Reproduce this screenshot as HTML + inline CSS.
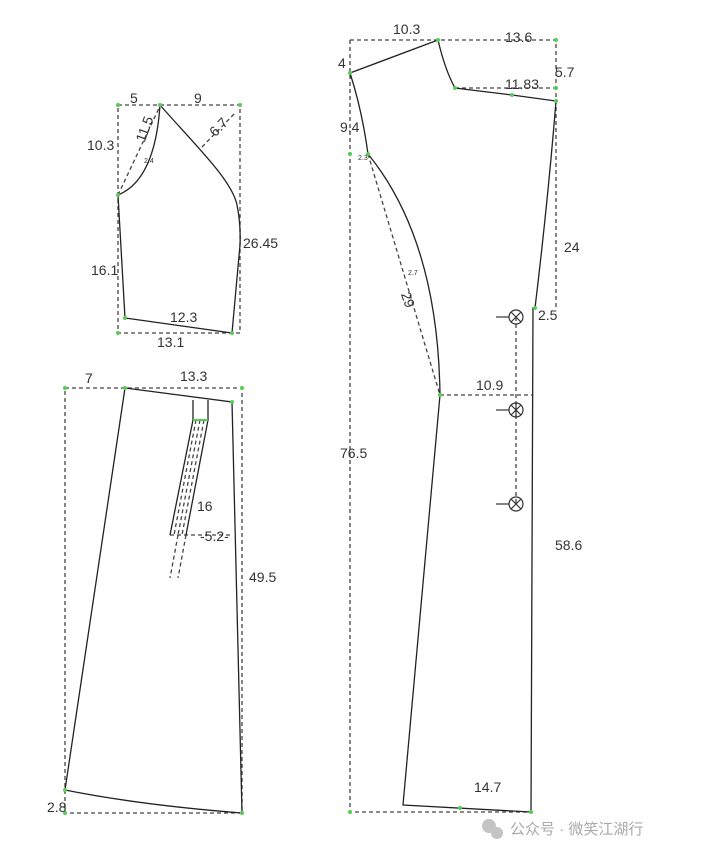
<!DOCTYPE html>
<html><head><meta charset="utf-8"><style>
html,body{margin:0;padding:0;background:#fff;}
svg{display:block;}
text{font-family:"Liberation Sans",sans-serif;fill:#333;}
</style></head><body>
<svg width="719" height="857" viewBox="0 0 719 857" xmlns="http://www.w3.org/2000/svg">
<g fill="none" stroke="#444" stroke-width="1.3" stroke-dasharray="4,3">
<rect x="118" y="105" width="122" height="228"/>
<line x1="118" y1="195" x2="160" y2="106"/>
<line x1="202" y1="147" x2="236" y2="112"/>
<path d="M65 388 H242 V813 H65 Z"/>
<path d="M196 420 L174 535 M200 420 L178 535 M204 420 L182 535 M186 535 L178 578 M178 535 L170 578"/>
<path d="M170 535 H230"/>
<path d="M350 40 H556 V308 M350 40 V812 H533"/>
<path d="M455 88 H556"/>
<line x1="368" y1="154" x2="440" y2="395"/>
<line x1="440" y1="395" x2="533" y2="395"/>
<line x1="516" y1="317" x2="516" y2="504"/>
</g>
<g fill="none" stroke="#222" stroke-width="1.3">
<path d="M160 105 C195 145 232 180 237 205 Q241 225 240 245 L232 333 L125 318 L118 195 Q155 180 160 105"/>
<path d="M125 388 L232 402 L242 813 Q140 805 65 790 L125 388"/>
<path d="M193 400 L193 420 M208 400 L208 420 M193 420 L170 535 M208 420 L186 535"/>
<path d="M350 73 L438 40 Q445 70 455 88 L512 95 L556 101 Q548 200 535 308 L533 308 L531 812 L403 805 L440 395 Q438 240 368 154 Q362 110 350 73"/>
</g>
<path d="M193 420 H208" stroke="#5c5" stroke-width="2"/>
<g stroke="#333" stroke-width="1.2" fill="none">
<circle cx="516" cy="317" r="7"/><line x1="496" y1="317" x2="509" y2="317"/><path d="M511 312 L521 322 M521 312 L511 322"/>
<circle cx="516" cy="410" r="7"/><line x1="496" y1="410" x2="509" y2="410"/><path d="M511 405 L521 415 M521 405 L511 415 M516 403 V417"/>
<circle cx="516" cy="504" r="7"/><line x1="496" y1="504" x2="509" y2="504"/><path d="M511 499 L521 509 M521 499 L511 509"/>
</g>
<g fill="#5c5" stroke="none">
<circle cx="118" cy="105" r="2"/><circle cx="160" cy="105" r="2"/><circle cx="240" cy="105" r="2"/><circle cx="118" cy="195" r="2"/><circle cx="118" cy="333" r="2"/><circle cx="232" cy="333" r="2"/><circle cx="125" cy="318" r="2"/>
<circle cx="65" cy="388" r="2"/><circle cx="125" cy="388" r="2"/><circle cx="242" cy="388" r="2"/><circle cx="232" cy="402" r="2"/><circle cx="65" cy="790" r="2"/><circle cx="65" cy="813" r="2"/><circle cx="242" cy="813" r="2"/>
<circle cx="350" cy="73" r="2"/><circle cx="438" cy="40" r="2"/><circle cx="556" cy="40" r="2"/><circle cx="455" cy="88" r="2"/><circle cx="556" cy="88" r="2"/><circle cx="512" cy="95" r="2"/><circle cx="556" cy="101" r="2"/><circle cx="350" cy="154" r="2"/><circle cx="368" cy="154" r="2"/><circle cx="440" cy="395" r="2"/><circle cx="535" cy="308" r="2"/><circle cx="350" cy="812" r="2"/><circle cx="531" cy="812" r="2"/><circle cx="460" cy="808" r="2"/>
</g>
<g font-size="14">
<text x="130" y="103">5</text><text x="194" y="103">9</text>
<text x="87" y="150">10.3</text>
<text x="134" y="142" transform="rotate(-70 140 135)">11.5</text>
<text x="144" y="163" font-size="7">2.4</text>
<text x="208" y="132" transform="rotate(-45 218 126)">6.7</text>
<text x="243" y="248">26.45</text>
<text x="91" y="275">16.1</text>
<text x="170" y="322">12.3</text>
<text x="157" y="347">13.1</text>
<text x="85" y="383">7</text><text x="180" y="381">13.3</text>
<text x="197" y="511">16</text>
<text x="200" y="541">-5.2-</text>
<text x="249" y="582">49.5</text>
<text x="47" y="812">2.8</text>
<text x="393" y="34">10.3</text><text x="505" y="42">13.6</text>
<text x="338" y="68">4</text>
<text x="505" y="89">11.83</text><text x="555" y="77">5.7</text>
<text x="340" y="132">9.4</text>
<text x="358" y="160" font-size="7">2.3</text>
<text x="564" y="252">24</text>
<text x="408" y="275" font-size="7">2.7</text>
<text x="398" y="302" transform="rotate(70 405 300)">29</text>
<text x="538" y="320">2.5</text>
<text x="476" y="390">10.9</text>
<text x="340" y="458">76.5</text>
<text x="555" y="550">58.6</text>
<text x="474" y="792">14.7</text>
</g>
<g fill="#c4c4c4">
<circle cx="489" cy="826" r="7"/><circle cx="497" cy="833" r="6"/>
</g>
<text x="510" y="834" font-size="15" style="fill:#aaa;font-family:'Liberation Sans','Noto Sans CJK SC',sans-serif">公众号 · 微笑江湖行</text>
</svg>
</body></html>
